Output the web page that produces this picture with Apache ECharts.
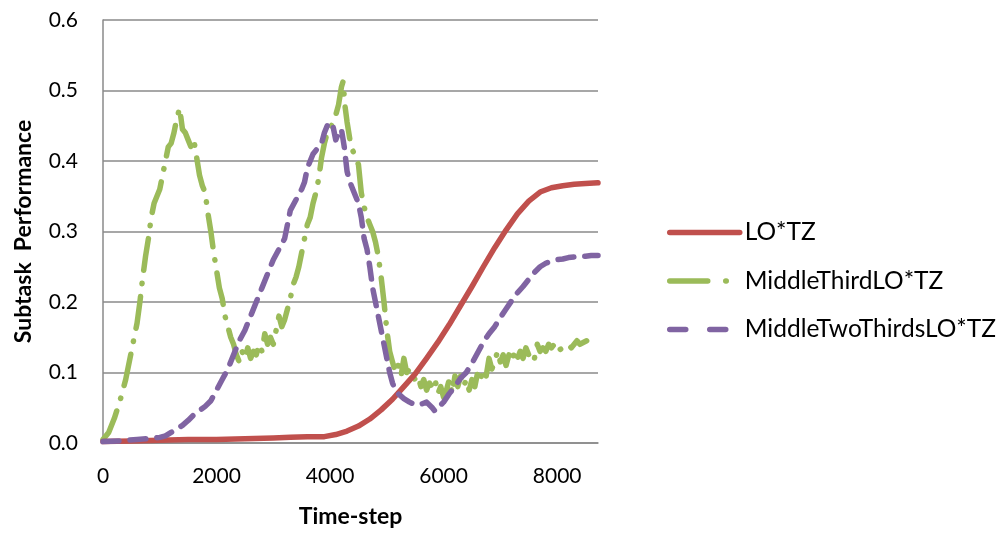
<!DOCTYPE html>
<html>
<head>
<meta charset="utf-8">
<script src="https://cdn.jsdelivr.net/npm/echarts@6/dist/echarts.min.js"></script>
<style>
html,body{margin:0;padding:0;background:#fff;}
#chart{width:1007px;height:533px;}
</style>
</head>
<body>
<div id="chart"></div>
<script>
// ---- data ----
const seriesNames = ['LO*TZ', 'MiddleThirdLO*TZ', 'MiddleTwoThirdsLO*TZ'];
const xTickLabels = ['0', '2000', '4000', '6000', '8000'];
const yTickLabels = ['0.0', '0.1', '0.2', '0.3', '0.4', '0.5', '0.6'];

const loTime = [0, 500, 1000, 1500, 2000, 2500, 3000, 3300, 3600, 3900, 4100, 4300, 4500, 4700, 4900, 5100, 5300, 5500, 5700, 5900, 6100, 6300, 6500, 6700, 6900, 7100, 7300, 7500, 7700, 7900, 8100, 8300, 8500, 8720];
const loValue = [0.002, 0.003, 0.004, 0.005, 0.005, 0.006, 0.007, 0.008, 0.009, 0.009, 0.012, 0.017, 0.024, 0.034, 0.047, 0.062, 0.08, 0.098, 0.12, 0.143, 0.168, 0.195, 0.222, 0.25, 0.277, 0.302, 0.325, 0.343, 0.356, 0.362, 0.365, 0.367, 0.368, 0.369];

const midThirdTime = [0, 100, 200, 300, 400, 500, 600, 650, 700, 750, 800, 850, 900, 950, 1000, 1050, 1100, 1150, 1200, 1250, 1300, 1350, 1400, 1450, 1500, 1550, 1600, 1650, 1700, 1750, 1800, 1850, 1900, 1950, 2000, 2050, 2100, 2150, 2200, 2250, 2300, 2350, 2400, 2450, 2500, 2550, 2600, 2650, 2700, 2750, 2800, 2850, 2900, 2950, 3000, 3050, 3100, 3150, 3200, 3250, 3300, 3350, 3400, 3450, 3500, 3550, 3600, 3650, 3700, 3750, 3800, 3850, 3900, 3950, 4000, 4050, 4100, 4150, 4200, 4230, 4260, 4300, 4350, 4400, 4450, 4500, 4550, 4600, 4650, 4700, 4750, 4800, 4850, 4900, 4950, 5000, 5050, 5100, 5150, 5200, 5250, 5300, 5350, 5400, 5450, 5500, 5550, 5600, 5650, 5700, 5750, 5800, 5850, 5900, 5950, 6000, 6050, 6100, 6150, 6200, 6250, 6300, 6350, 6400, 6450, 6500, 6550, 6600, 6650, 6700, 6750, 6800, 6850, 6900, 6950, 7000, 7050, 7100, 7150, 7200, 7250, 7300, 7350, 7400, 7450, 7500, 7550, 7600, 7650, 7700, 7750, 7800, 7850, 7900, 7950, 8000, 8100, 8200, 8250, 8300, 8350, 8400, 8520];
const midThirdValue = [0.005, 0.015, 0.035, 0.06, 0.09, 0.13, 0.17, 0.2, 0.235, 0.265, 0.29, 0.32, 0.34, 0.35, 0.36, 0.38, 0.4, 0.42, 0.425, 0.44, 0.46, 0.475, 0.445, 0.44, 0.43, 0.42, 0.43, 0.405, 0.38, 0.365, 0.355, 0.325, 0.3, 0.27, 0.245, 0.22, 0.205, 0.18, 0.165, 0.15, 0.14, 0.125, 0.115, 0.13, 0.12, 0.135, 0.12, 0.13, 0.125, 0.14, 0.13, 0.155, 0.14, 0.15, 0.14, 0.16, 0.18, 0.165, 0.175, 0.19, 0.205, 0.225, 0.235, 0.25, 0.27, 0.29, 0.31, 0.32, 0.34, 0.355, 0.375, 0.405, 0.425, 0.44, 0.445, 0.455, 0.465, 0.48, 0.505, 0.513, 0.48, 0.455, 0.43, 0.415, 0.405, 0.395, 0.355, 0.335, 0.32, 0.31, 0.3, 0.285, 0.265, 0.235, 0.2, 0.16, 0.13, 0.115, 0.1, 0.11, 0.095, 0.12, 0.1, 0.105, 0.095, 0.09, 0.095, 0.08, 0.09, 0.075, 0.085, 0.08, 0.09, 0.07, 0.08, 0.065, 0.075, 0.09, 0.07, 0.095, 0.08, 0.095, 0.08, 0.09, 0.075, 0.09, 0.08, 0.1, 0.09, 0.105, 0.095, 0.12, 0.105, 0.115, 0.13, 0.115, 0.125, 0.11, 0.125, 0.115, 0.13, 0.12, 0.13, 0.12, 0.135, 0.125, 0.13, 0.12, 0.14, 0.13, 0.135, 0.13, 0.14, 0.135, 0.14, 0.13, 0.135, 0.14, 0.135, 0.14, 0.145, 0.14, 0.145];

const midTwoThirdsTime = [0, 300, 600, 900, 1000, 1100, 1200, 1300, 1400, 1500, 1600, 1700, 1800, 1900, 2000, 2100, 2200, 2300, 2400, 2500, 2600, 2700, 2800, 2900, 3000, 3100, 3200, 3300, 3400, 3500, 3550, 3600, 3700, 3750, 3800, 3850, 3900, 3950, 4000, 4050, 4100, 4150, 4200, 4250, 4300, 4350, 4400, 4450, 4500, 4550, 4600, 4650, 4700, 4750, 4800, 4850, 4900, 4950, 5000, 5050, 5100, 5150, 5200, 5300, 5400, 5500, 5600, 5700, 5800, 5850, 5900, 6000, 6100, 6200, 6300, 6400, 6500, 6600, 6700, 6800, 6900, 7000, 7100, 7200, 7300, 7400, 7500, 7600, 7700, 7800, 7900, 8000, 8100, 8200, 8300, 8400, 8500, 8600, 8720];
const midTwoThirdsValue = [0.002, 0.003, 0.005, 0.007, 0.008, 0.01, 0.015, 0.02, 0.025, 0.032, 0.04, 0.046, 0.052, 0.06, 0.075, 0.09, 0.105, 0.125, 0.145, 0.16, 0.18, 0.2, 0.22, 0.24, 0.26, 0.275, 0.29, 0.33, 0.345, 0.36, 0.37, 0.39, 0.41, 0.415, 0.42, 0.425, 0.44, 0.45, 0.455, 0.45, 0.43, 0.44, 0.445, 0.42, 0.385, 0.37, 0.36, 0.35, 0.34, 0.32, 0.29, 0.275, 0.25, 0.22, 0.2, 0.18, 0.16, 0.14, 0.12, 0.1, 0.085, 0.075, 0.07, 0.063, 0.058, 0.054, 0.055, 0.058, 0.05, 0.045, 0.05, 0.058, 0.07, 0.08, 0.092, 0.1, 0.113, 0.128, 0.143, 0.155, 0.165, 0.178, 0.19, 0.202, 0.213, 0.222, 0.232, 0.242, 0.25, 0.255, 0.258, 0.26, 0.261, 0.263, 0.264, 0.265, 0.265, 0.266, 0.266];

function pairs(t, v) { return t.map((x, i) => [x, v[i]]); }

const FONT = 'Lato, "Open Sans", sans-serif';
const GRID = '#8a8a8a';
const colors = ['#C0504D', '#9BBB59', '#8064A2'];
const LW = 5.5;

const chart = echarts.init(document.getElementById('chart'), null, {renderer: 'canvas'});
chart.setOption({
  animation: false,
  backgroundColor: '#ffffff',
  grid: {left: 103, right: 409, top: 20, bottom: 88, containLabel: false},
  xAxis: {
    type: 'value', min: 0, max: 8720, interval: 2000,
    name: 'Time-step', nameLocation: 'middle', nameGap: 62,
    nameTextStyle: {fontFamily: FONT, fontWeight: 'bold', fontSize: 23, color: '#000'},
    axisLine: {show: true, lineStyle: {color: GRID, width: 1.5}},
    axisTick: {show: false},
    splitLine: {show: false},
    axisLabel: {
      fontFamily: FONT, fontSize: 21, color: '#000', margin: 23, showMaxLabel: false,
      formatter: v => { const i = xTickLabels.indexOf(String(v)); return i >= 0 ? xTickLabels[i] : ''; }
    }
  },
  yAxis: {
    type: 'value', min: 0, max: 0.6, interval: 0.1,
    name: 'Subtask  Performance', nameLocation: 'middle', nameGap: 68,
    nameTextStyle: {fontFamily: FONT, fontWeight: 'bold', fontSize: 23, color: '#000'},
    axisLine: {show: true, lineStyle: {color: GRID, width: 1.5}},
    axisTick: {show: false},
    splitLine: {show: true, lineStyle: {color: GRID, width: 1.5}},
    axisLabel: {
      fontFamily: FONT, fontSize: 21, color: '#000', margin: 25,
      formatter: v => yTickLabels[Math.round(v * 10)]
    }
  },
  legend: {
    orient: 'vertical', left: 667, top: 220, padding: 0,
    itemWidth: 70, itemHeight: 24, itemGap: 23.5,
    itemStyle: {opacity: 0},
    lineStyle: {width: LW, cap: 'round'},
    textStyle: {fontFamily: FONT, fontSize: 24.5, lineHeight: 24, color: '#000'},
    data: [
      {name: seriesNames[0]},
      {name: seriesNames[1], lineStyle: {width: LW, type: [38, 18, 0.5, 30], cap: 'round'}},
      {name: seriesNames[2], lineStyle: {width: LW, type: [16, 24], cap: 'round'}}
    ]
  },
  series: [
    {
      name: seriesNames[0], type: 'line', symbol: 'none', z: 3,
      data: pairs(loTime, loValue),
      lineStyle: {color: colors[0], width: LW, cap: 'round', join: 'round'},
      itemStyle: {color: colors[0]}
    },
    {
      name: seriesNames[1], type: 'line', symbol: 'none', z: 2,
      data: pairs(midThirdTime, midThirdValue),
      lineStyle: {color: colors[1], width: LW, type: [32, 13, 0.5, 13], cap: 'round', join: 'round'},
      itemStyle: {color: colors[1]}
    },
    {
      name: seriesNames[2], type: 'line', symbol: 'none', z: 4,
      data: pairs(midTwoThirdsTime, midTwoThirdsValue),
      lineStyle: {color: colors[2], width: LW, type: [16, 11], cap: 'round', join: 'round'},
      itemStyle: {color: colors[2]}
    }
  ]
});
</script>
</body>
</html>
